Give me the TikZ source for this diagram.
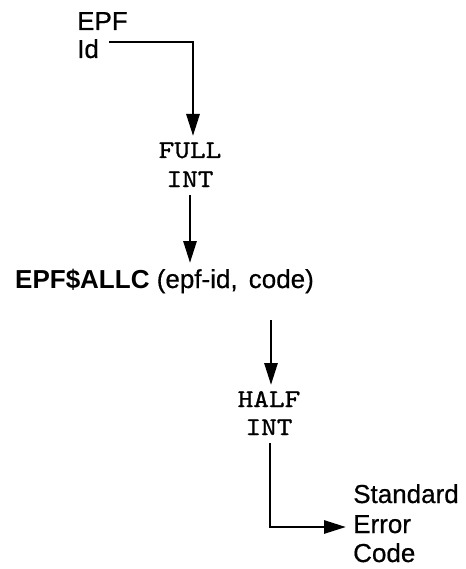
\documentclass[tikz,border=0pt]{standalone}
\usepackage{fontspec}
\setmainfont{Liberation Sans}[UprightFeatures={FakeBold=0.6}]
\setmonofont{lmmono10-regular.otf}[FakeStretch=1.17,FakeBold=1]
\usetikzlibrary{arrows.meta}
\begin{document}
\begin{tikzpicture}[x=1pt,y=-1pt,
  lbl/.style={inner sep=0pt,font=\fontsize{26}{29}\selectfont},
  mono/.style={inner sep=0pt,font=\fontsize{25.5}{29}\ttfamily},
  conn/.style={line width=2.9pt,-{Triangle[length=22pt,width=13pt]}}]
\useasboundingbox (0,0) rectangle (465,569);
\node[lbl,anchor=base west] (epf) at (77,30) {EPF};
\node[lbl,anchor=base west] (id) at (77,58) {Id};
\node[mono,anchor=base] (full) at (190,158) {FULL};
\node[mono,anchor=base] (fint) at (190,187) {INT};
\node[lbl,anchor=base west] (call) at (15,288) {\textbf{EPF\$ALLC} (epf-id,\hspace{0.15em} code)};
\node[mono,anchor=base] (half) at (269,407) {HALF};
\node[mono,anchor=base] (hint) at (269,435) {INT};
\node[lbl,anchor=base west] (std) at (353,503) {Standard};
\node[lbl,anchor=base west] (err) at (353,533) {Error};
\node[lbl,anchor=base west] (code) at (353,562) {Code};
\coordinate (c1) at (193,42);
\coordinate (t1) at (193,136);
\draw[conn] (id.east |- c1) ++(10,0) -- (c1) -- (t1);
\coordinate (s2) at (190,195);
\coordinate (t2) at (190,263);
\draw[conn] (s2) -- (t2);
\coordinate (s3) at (271,320);
\coordinate (t3) at (271,385);
\draw[conn] (s3) -- (t3);
\coordinate (s4) at (270,443);
\coordinate (c4) at (270,527);
\draw[conn] (s4) -- (c4) -- ([xshift=-7pt]err.west |- c4);
\end{tikzpicture}
\end{document}
